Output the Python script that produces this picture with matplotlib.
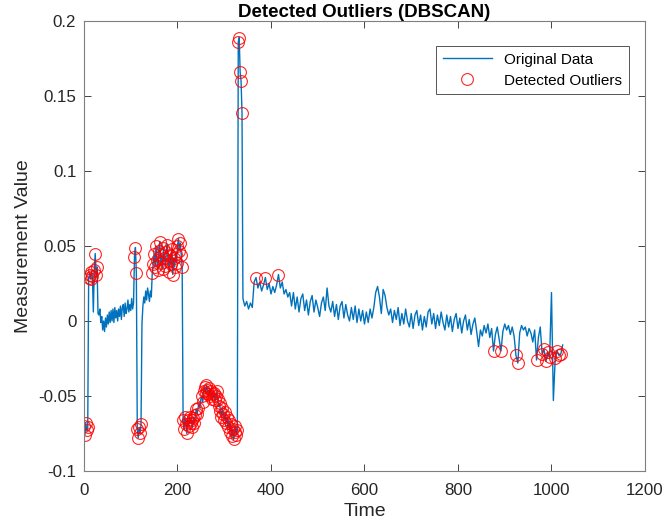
import matplotlib
matplotlib.use("Agg")
import matplotlib.pyplot as plt
import numpy as np

# first part of the record (sampled every 2 time units, t = 0 ... 338)
val_a = [
    -0.070, -0.076, -0.068, -0.073, -0.071,
    0.029, 0.031, 0.028, 0.033, 0.030, 0.006, 0.034, 0.045, 0.031, 0.036, 0.005,
    0.004, 0.008, -0.001, 0.003, -0.006, 0.000, -0.007, 0.002, -0.004, 0.004,
    -0.002, 0.006, -0.001, 0.007, 0.000, 0.008, -0.001, 0.009, 0.002, 0.007,
    0.000, 0.008, 0.003, 0.010, 0.001, 0.009, 0.011, 0.003, 0.012, 0.005,
    0.008, 0.014, 0.006, 0.011, 0.007, 0.015, 0.008, 0.012,
    0.043, 0.049, 0.032, -0.072, -0.078, -0.071, -0.075, -0.069,
    -0.002, 0.010, 0.016, 0.012, 0.020, 0.014, 0.022, 0.018, 0.013, 0.020, 0.016, 0.032,
    0.038, 0.045, 0.036, 0.050, 0.041, 0.034, 0.047, 0.053, 0.039, 0.044,
    0.035, 0.049, 0.042, 0.037, 0.046, 0.051, 0.040, 0.033, 0.044, 0.038,
    0.048, 0.031, 0.042, 0.036, 0.045, 0.039, 0.050, 0.055, 0.047, 0.052,
    0.044, 0.036,
    -0.066, -0.072, -0.064, -0.069, -0.075, -0.066, -0.070, -0.064, -0.068,
    -0.066, -0.071, -0.065, -0.068, -0.063, -0.059, -0.062, -0.058,
    -0.055, -0.058, -0.052, -0.050, -0.054, -0.047, -0.044, -0.048, -0.043,
    -0.046, -0.049, -0.045, -0.050, -0.047, -0.052, -0.049, -0.048, -0.053,
    -0.050, -0.047, -0.052, -0.057, -0.055, -0.060, -0.064, -0.058, -0.062,
    -0.066, -0.061, -0.068, -0.064, -0.071, -0.066, -0.074, -0.069, -0.077,
    -0.072, -0.079, -0.074, -0.070, -0.076, -0.073,
    0.186, 0.189, 0.166, 0.160, 0.139,
]

# rest of the record (sampled every 4 time units, t = 340 ... 1024)
val_b = [
    0.015, 0.010, 0.013, 0.008, 0.012, 0.009, 0.026,
    0.029, 0.022, 0.026, 0.020, 0.024, 0.029, 0.021, 0.025, 0.018, 0.023,
    0.019, 0.024, 0.031, 0.022, 0.026, 0.018, 0.021, 0.016, 0.019,
    0.010, 0.019, 0.008, 0.016, 0.006, 0.015, 0.018, 0.007, 0.014, 0.004,
    0.013, 0.017, 0.006, 0.014, 0.009, 0.003,
    0.012, 0.016, 0.007, 0.022, 0.010, 0.006, 0.013, 0.003, 0.011, 0.001,
    0.010, 0.013, 0.002, 0.011, 0.004, 0.000, 0.009, 0.001, 0.010, -0.001,
    0.008, 0.000, 0.007, -0.002, 0.006, -0.001, 0.008, 0.002, 0.009,
    0.019, 0.023, 0.016, 0.005, 0.021, 0.017, 0.009, 0.004,
    0.008, -0.001, 0.007, 0.001, 0.009, -0.003, 0.005, -0.002, 0.008, 0.000,
    -0.004, 0.005, -0.005, 0.004, 0.007, -0.003, 0.004, -0.006, 0.003, -0.004,
    0.006, 0.008, -0.002, 0.005, -0.005, 0.004, -0.003, 0.006, -0.001, -0.006,
    0.004, -0.004, 0.003, -0.007, 0.001, 0.005, -0.005, 0.002, -0.008, 0.000,
    0.004, -0.006, 0.001, -0.009, -0.002, 0.002, -0.007,
    -0.017, -0.006, -0.010, -0.003, -0.008, -0.002, -0.011, -0.005, -0.020,
    -0.009, -0.004, -0.012, -0.020, -0.007, -0.002, -0.006, -0.003, -0.009,
    -0.004, -0.010, -0.023, -0.028, -0.008, -0.003, -0.006, -0.004, -0.010,
    -0.005, -0.008, -0.014, -0.006, -0.026, -0.011, -0.004, -0.022, -0.019,
    -0.027, -0.021, -0.024, 0.019, -0.053, -0.025, -0.020, -0.023, -0.022,
    -0.016,
]

# time ranges flagged as noise by DBSCAN
outlier_spans = [(0, 19), (21, 29), (107, 123), (146, 245), (251, 338),
                 (368, 368), (388, 388), (416, 416), (876, 876), (892, 892),
                 (924, 928), (968, 968), (980, 996), (1008, 1020)]

t = np.concatenate([2 * np.arange(len(val_a)), 340 + 4 * np.arange(len(val_b))])
y = np.array(val_a + val_b)
mask = np.zeros(len(t), dtype=bool)
for lo, hi in outlier_spans:
    mask |= (t >= lo) & (t <= hi)

plt.rcParams['font.family'] = ['Liberation Sans', 'DejaVu Sans']
fig = plt.figure(figsize=(6.65, 5.26), dpi=100)
ax = fig.add_axes([0.1263, 0.1046, 0.8436, 0.8554])

ax.plot(t, y, color='#0072BD', lw=1.0, label='Original Data')
ax.plot(t[mask], y[mask], 'o', ls='none', ms=8.5, mfc='none', mec='#FF0000',
        mew=0.8, alpha=0.85, label='Detected Outliers')

ax.set_xlim(0, 1200)
ax.set_ylim(-0.1, 0.2)
ax.set_xticks(np.arange(0, 1201, 200))
ax.set_yticks(np.arange(-0.1, 0.201, 0.05))
ax.set_yticklabels(['-0.1', '-0.05', '0', '0.05', '0.1', '0.15', '0.2'])
ax.tick_params(direction='in', top=True, right=True, length=5, width=0.6,
               colors='#262626', labelsize=12.2)
ax.tick_params(axis='x', pad=9)
ax.tick_params(axis='y', pad=5.5)
for s in ax.spines.values():
    s.set_color('#7f7f7f')
    s.set_linewidth(0.8)

ax.set_xlabel('Time', fontsize=14, color='#262626', labelpad=3)
ax.set_ylabel('Measurement Value', fontsize=14, color='#262626', labelpad=4)
ax.set_title('Detected Outliers (DBSCAN)', fontsize=13.5, fontweight='bold', pad=3)

leg = ax.legend(loc='upper right', bbox_to_anchor=(0.985, 0.962), fontsize=11,
                handlelength=3.2, fancybox=False, framealpha=1,
                edgecolor='#555555', borderpad=0.45, labelspacing=0.45)
leg.get_frame().set_linewidth(0.7)

fig.savefig('out.png', dpi=100)
